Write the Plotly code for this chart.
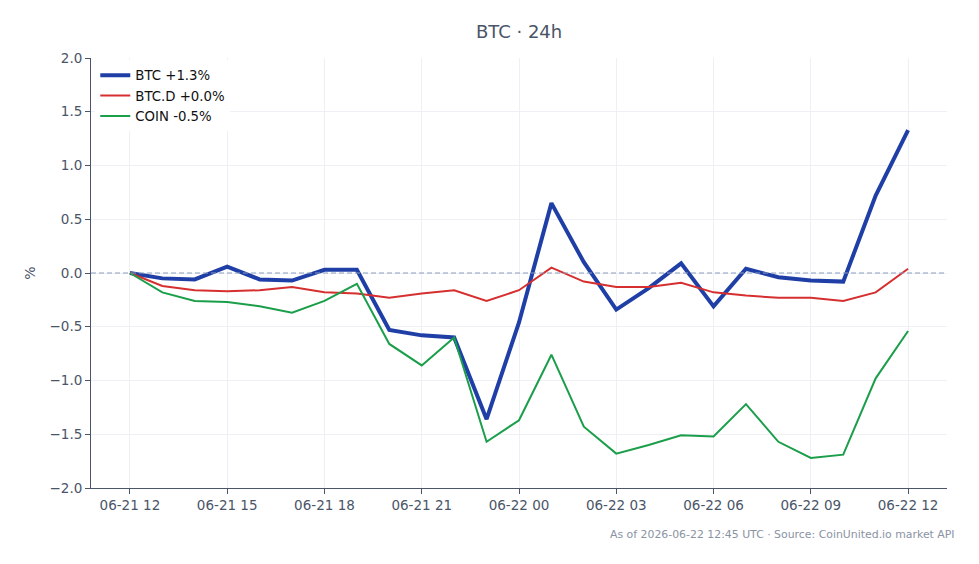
import plotly.graph_objects as go
import pandas as pd

times = pd.date_range("2026-06-21 12:00", "2026-06-22 12:00", freq="h")

btc = [0.0, -0.05, -0.06, 0.06, -0.06, -0.07, 0.03, 0.03, -0.53, -0.58, -0.60, -1.36,
       -0.46, 0.65, 0.10, -0.34, -0.14, 0.09, -0.31, 0.04, -0.04, -0.07, -0.08, 0.72, 1.33]
btcd = [0.0, -0.12, -0.16, -0.17, -0.16, -0.13, -0.18, -0.19, -0.23, -0.19, -0.16, -0.26,
        -0.16, 0.05, -0.08, -0.13, -0.13, -0.09, -0.18, -0.21, -0.23, -0.23, -0.26, -0.18, 0.04]
coin = [0.0, -0.18, -0.26, -0.27, -0.31, -0.37, -0.26, -0.10, -0.66, -0.86, -0.60, -1.57,
        -1.37, -0.76, -1.43, -1.68, -1.60, -1.51, -1.52, -1.22, -1.57, -1.72, -1.69, -0.98, -0.54]

names = ["BTC +1.3%", "BTC.D +0.0%", "COIN -0.5%"]
colors = ["#1f3fa6", "#d62f2f", "#1a9e4a"]
widths = [4, 2, 2]
title = "BTC · 24h"
note = "As of 2026-06-22 12:45 UTC · Source: CoinUnited.io market API"

fig = go.Figure()
for vals, nm, c, w in zip([btc, btcd, coin], names, colors, widths):
    fig.add_trace(go.Scatter(x=times, y=vals, name=nm, mode="lines",
                             line=dict(color=c, width=w)))

fig.add_hline(y=0, line=dict(color="#8a9cbd", width=1, dash="5px,3px"))

axis_col = "#4a5568"
fig.update_layout(
    width=979, height=564,
    margin=dict(l=91, r=32, t=58, b=76),
    paper_bgcolor="white", plot_bgcolor="white",
    font=dict(family="DejaVu Sans", size=13.5, color=axis_col),
    title=dict(text=title, x=0.5302, xanchor="center", y=0.943, yanchor="middle",
               font=dict(size=18, color=axis_col)),
    legend=dict(x=0.005, y=0.995, xanchor="left", yanchor="top",
                bgcolor="rgba(255,255,255,0.9)", font=dict(size=13.3, color="#111"),
                tracegroupgap=0),
    xaxis=dict(range=["2026-06-21 10:48", "2026-06-22 13:12"],
               dtick=3 * 3600 * 1000, tick0="2026-06-21 12:00", tickformat="%m-%d %H",
               showline=True, linecolor=axis_col, linewidth=1,
               ticks="outside", ticklen=5, tickcolor=axis_col,
               gridcolor="#eef0f5", zeroline=False, tickfont=dict(size=13.5)),
    yaxis=dict(range=[-2, 2], dtick=0.5, tickformat=".1f",
               showline=True, linecolor=axis_col, linewidth=1,
               ticks="outside", ticklen=5, tickcolor=axis_col,
               gridcolor="#eef0f5", zeroline=False,
               title=dict(text="%", standoff=10, font=dict(size=14)),
               tickfont=dict(size=13.5)),
    annotations=[dict(text=note, xref="paper", yref="paper", x=1.012, y=-0.108,
                      xanchor="right", yanchor="middle", showarrow=False,
                      font=dict(size=10.9, color="#8a93a3"))],
)

fig.write_html("out.html")
